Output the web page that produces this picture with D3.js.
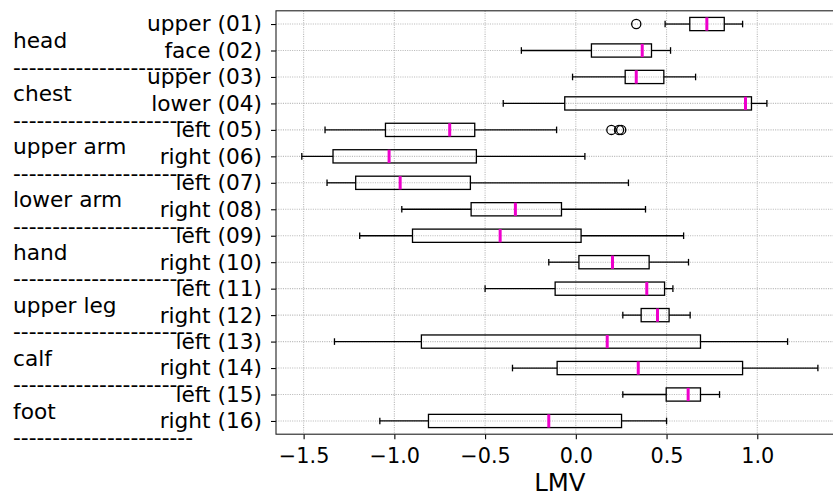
<!DOCTYPE html>
<html>
<head>
<meta charset="utf-8">
<script src="https://cdn.jsdelivr.net/npm/d3@7"></script>
<style>
  body { margin: 0; background: #fff; }
  text { font-family: "DejaVu Sans", sans-serif; fill: #000; }
</style>
</head>
<body>
<div id="lmv_chart"></div>
<script>
// Data (one entry per body segment, top to bottom)
var segmentLabels = ["upper (01)", "face (02)", "upper (03)", "lower (04)",
    "left (05)", "right (06)", "left (07)", "right (08)",
    "left (09)", "right (10)", "left (11)", "right (12)",
    "left (13)", "right (14)", "left (15)", "right (16)"];
var groupNames = ["head", "chest", "upper arm", "lower arm", "hand", "upper leg", "calf", "foot"];

var whiskerLow  = [0.492, -0.30, -0.018, -0.40, -1.382, -1.51, -1.371, -0.959,
    -1.191, -0.149, -0.50, 0.259, -1.33, -0.349, 0.259, -1.08];
var q1          = [0.628, 0.086, 0.272, -0.061, -1.049, -1.338, -1.213, -0.577,
    -0.90, 0.017, -0.114, 0.36, -0.851, -0.103, 0.498, -0.812];
var medians     = [0.722, 0.366, 0.333, 0.935, -0.695, -1.029, -0.968, -0.333,
    -0.417, 0.202, 0.391, 0.45, 0.173, 0.344, 0.619, -0.149];
var q3          = [0.818, 0.417, 0.485, 0.968, -0.557, -0.548, -0.581, -0.079,
    0.029, 0.404, 0.489, 0.514, 0.687, 0.919, 0.687, 0.252];
var whiskerHigh = [0.919, 0.522, 0.66, 1.053, -0.106, 0.05, 0.29, 0.384,
    0.594, 0.621, 0.535, 0.63, 1.167, 1.334, 0.792, 0.50];
var outliers    = [[0.333], [], [], [], [0.196, 0.238, 0.25], [], [], [],
    [], [], [], [], [], [], [], []];
var xTicks = [-1.5, -1.0, -0.5, 0.0, 0.5, 1.0];

// dimensions (plot runs past the right edge of the page, as in the original)
var margin = { top: 10.8, left: 276 },
    width = 567.7,
    height = 423.4;

var svg = d3.select("#lmv_chart")
    .append("svg")
    .attr("width", 833)
    .attr("height", 494);

var g = svg.append("g")
    .attr("transform", "translate(" + margin.left + "," + margin.top + ")");

// x scale: data range plus 5% padding each side
var allVals = whiskerLow.concat(whiskerHigh, d3.merge(outliers));
var ext = d3.extent(allVals);
var pad = (ext[1] - ext[0]) * 0.05;
var xscale = d3.scaleLinear()
    .domain([ext[0] - pad, ext[1] + pad])
    .range([0, width]);

// y scale: row 1 at top
var yscale = d3.scaleLinear()
    .domain([0.5, segmentLabels.length + 0.5])
    .range([0, height]);
var rowIdx = d3.range(1, segmentLabels.length + 1);
var step = yscale(2) - yscale(1);

// grid lines
var gridColor = "#bcbcbc";
g.append("g").selectAll("line")
    .data(xTicks)
    .join("line")
    .attr("x1", d => xscale(d)).attr("x2", d => xscale(d))
    .attr("y1", 0).attr("y2", height)
    .attr("stroke", gridColor)
    .attr("stroke-width", 1.1)
    .attr("stroke-dasharray", "1.1,1.2");
g.append("g").selectAll("line")
    .data(rowIdx)
    .join("line")
    .attr("x1", 0).attr("x2", width)
    .attr("y1", d => yscale(d)).attr("y2", d => yscale(d))
    .attr("stroke", gridColor)
    .attr("stroke-width", 1.1)
    .attr("stroke-dasharray", "1.1,1.2");

// boxes
var boxH = step * 0.5;
var capH = step * 0.25;
var rows = g.append("g").selectAll("g")
    .data(rowIdx)
    .join("g");

// whiskers
rows.append("line")
    .attr("x1", d => xscale(whiskerLow[d - 1])).attr("x2", d => xscale(q1[d - 1]))
    .attr("y1", d => yscale(d)).attr("y2", d => yscale(d))
    .attr("stroke", "#000").attr("stroke-width", 1.3);
rows.append("line")
    .attr("x1", d => xscale(q3[d - 1])).attr("x2", d => xscale(whiskerHigh[d - 1]))
    .attr("y1", d => yscale(d)).attr("y2", d => yscale(d))
    .attr("stroke", "#000").attr("stroke-width", 1.3);
// caps
rows.append("line")
    .attr("x1", d => xscale(whiskerLow[d - 1])).attr("x2", d => xscale(whiskerLow[d - 1]))
    .attr("y1", d => yscale(d) - capH / 2).attr("y2", d => yscale(d) + capH / 2)
    .attr("stroke", "#000").attr("stroke-width", 1.3);
rows.append("line")
    .attr("x1", d => xscale(whiskerHigh[d - 1])).attr("x2", d => xscale(whiskerHigh[d - 1]))
    .attr("y1", d => yscale(d) - capH / 2).attr("y2", d => yscale(d) + capH / 2)
    .attr("stroke", "#000").attr("stroke-width", 1.3);
// box
rows.append("rect")
    .attr("x", d => xscale(q1[d - 1]))
    .attr("width", d => xscale(q3[d - 1]) - xscale(q1[d - 1]))
    .attr("y", d => yscale(d) - boxH / 2)
    .attr("height", boxH)
    .attr("fill", "none")
    .attr("stroke", "#000").attr("stroke-width", 1.3);
// median
rows.append("line")
    .attr("x1", d => xscale(medians[d - 1])).attr("x2", d => xscale(medians[d - 1]))
    .attr("y1", d => yscale(d) - boxH / 2).attr("y2", d => yscale(d) + boxH / 2)
    .attr("stroke", "#ee00cc").attr("stroke-width", 3);
// fliers
rows.selectAll("circle")
    .data(d => outliers[d - 1].map(v => ({ v: v, r: d })))
    .join("circle")
    .attr("cx", d => xscale(d.v))
    .attr("cy", d => yscale(d.r))
    .attr("r", 4.6)
    .attr("fill", "none")
    .attr("stroke", "#000").attr("stroke-width", 1.3);

// axes
var xAxis = d3.axisBottom(xscale)
    .tickValues(xTicks)
    .tickFormat(d3.format(".1f"))
    .tickSizeOuter(0)
    .tickSize(5)
    .tickPadding(9);
var gx = g.append("g")
    .attr("transform", "translate(0," + height + ")")
    .call(xAxis);
gx.selectAll("text").style("font-size", "20.8px")
    .text(d => d3.format(".1f")(d).replace("-", "\u2212"));

var yAxis = d3.axisLeft(yscale)
    .tickValues(rowIdx)
    .tickFormat(d => segmentLabels[d - 1])
    .tickSizeOuter(0)
    .tickSize(5)
    .tickPadding(9);
var gy = g.append("g").call(yAxis);
gy.selectAll("text").style("font-size", "21.7px");

svg.selectAll(".domain").remove();
g.selectAll(".tick line").attr("stroke", "#000").attr("stroke-width", 1.1);

// spines
g.append("rect")
    .attr("x", 0).attr("y", 0)
    .attr("width", width).attr("height", height)
    .attr("fill", "none")
    .attr("stroke", "#222").attr("stroke-width", 1.1);

// x axis label
g.append("text")
    .attr("x", width / 2)
    .attr("y", height + 57)
    .style("text-anchor", "middle")
    .style("font-size", "24.4px")
    .text("LMV");

// group labels and dashed separators
groupNames.forEach(function (name, i) {
    var a = 2 * i + 1, b = 2 * i + 2;
    var mid = (yscale(a) + yscale(b)) / 2;
    svg.append("text")
        .attr("x", 13)
        .attr("y", margin.top + mid + 11)
        .style("font-size", "21.7px")
        .text(name);
    svg.append("text")
        .attr("x", 13)
        .attr("y", margin.top + yscale(b + 0.5) + 11)
        .style("font-size", "21.7px")
        .text("-".repeat(23));
});
</script>
</body>
</html>
